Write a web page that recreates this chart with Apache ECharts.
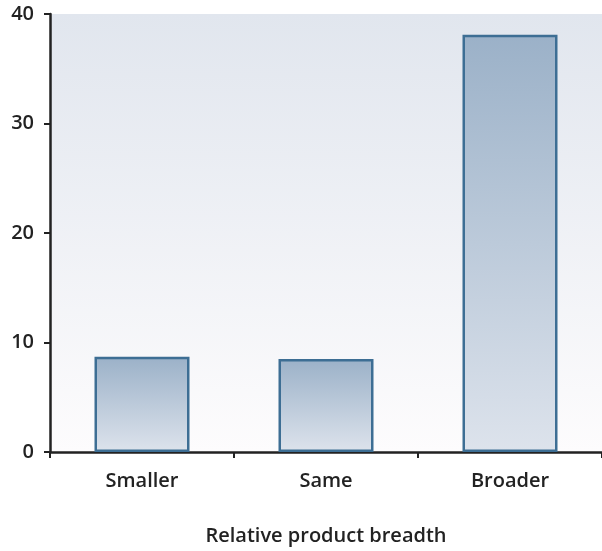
<!DOCTYPE html>
<html><head><meta charset="utf-8">
<script src="https://cdn.jsdelivr.net/npm/echarts@6/dist/echarts.min.js"></script>
<style>html,body{margin:0;padding:0;background:#fff}#c{width:602px;height:551px}</style>
</head><body><div id="c"></div>
<script>
const categories = ['Smaller', 'Same', 'Broader'];
const values = [8.7, 8.5, 38.1];
const yTicks = [0, 10, 20, 30, 40];
const xAxisTitle = 'Relative product breadth';

const chart = echarts.init(document.getElementById('c'));
const font = 'Open Sans';
const txt = {color: '#222', fontSize: 20, fontFamily: font, fontWeight: 600};
chart.setOption({
  animation: false,
  grid: {
    left: 50, right: 0, top: 14, bottom: 96, show: true, borderWidth: 0,
    backgroundColor: new echarts.graphic.LinearGradient(0, 0, 0, 1, [
      {offset: 0, color: '#e1e6ee'}, {offset: 1, color: '#fdfcfd'}
    ])
  },
  xAxis: {
    type: 'category', data: categories,
    axisLine: {lineStyle: {color: '#222', width: 2.5}},
    axisTick: {show: true, length: 6, lineStyle: {color: '#222', width: 2}},
    axisLabel: Object.assign({margin: 19}, txt),
    name: xAxisTitle, nameLocation: 'middle', nameGap: 74,
    nameTextStyle: txt
  },
  yAxis: {
    type: 'value', min: yTicks[0], max: yTicks[yTicks.length - 1], interval: 10,
    axisLine: {show: true, lineStyle: {color: '#222', width: 2.5}},
    axisTick: {show: true, length: 6, lineStyle: {color: '#222', width: 2}},
    splitLine: {show: false},
    axisLabel: Object.assign({margin: 16}, txt)
  },
  series: [{
    type: 'bar', data: values, barWidth: 95,
    itemStyle: {
      color: new echarts.graphic.LinearGradient(0, 0, 0, 1, [
        {offset: 0, color: '#9bb1c8'}, {offset: 1, color: '#dde3ec'}
      ]),
      borderColor: '#3d6e94', borderWidth: 2.5
    }
  }]
});
</script></body></html>
